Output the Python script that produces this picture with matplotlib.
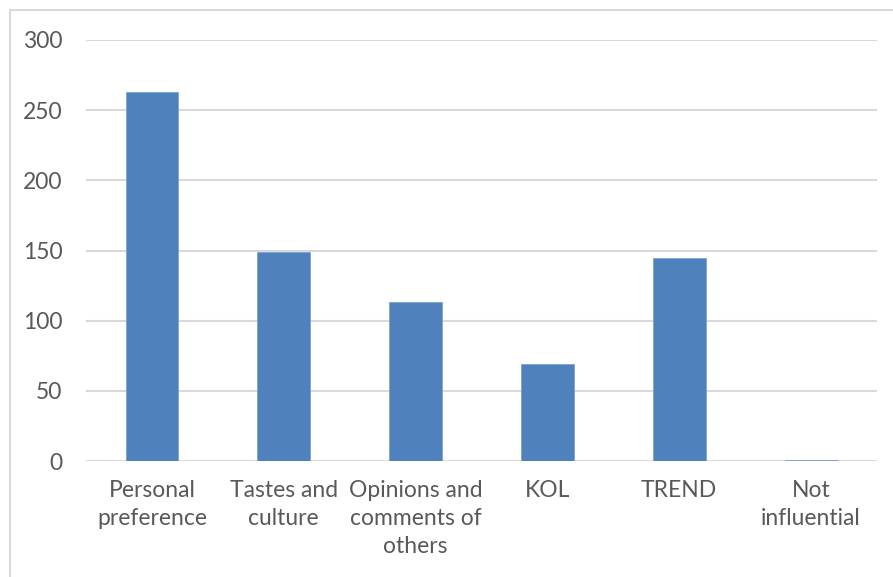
import matplotlib.pyplot as plt
from matplotlib.patches import Rectangle

categories = ['Personal\npreference', 'Tastes and\nculture', 'Opinions and\ncomments of\nothers',
              'KOL', 'TREND', 'Not\ninfluential']
counts = [263, 149, 113, 69, 145, 1]
yticks = [0, 50, 100, 150, 200, 250, 300]

plt.rcParams['font.family'] = ['Lato', 'DejaVu Sans']

W, H = 893, 577
fig = plt.figure(figsize=(W / 100, H / 100), dpi=100)
ax = fig.add_axes([86 / W, 116 / H, (877 - 86) / W, (461 - 40) / H])

x = list(range(len(categories)))
ax.bar(x, counts, width=0.4, color='#4F81BD', edgecolor='#7FA3D3', linewidth=0.6, zorder=3)

ax.set_xlim(-0.5, len(categories) - 0.5)
ax.set_ylim(0, 300)
ax.set_yticks(yticks)
ax.set_xticks(x)
ax.set_xticklabels(categories, linespacing=1.4)

ax.grid(axis='y', color='#D9D9D9', linewidth=1.5, zorder=0)
for s in ax.spines.values():
    s.set_visible(False)
ax.tick_params(axis='both', length=0, labelsize=16.5, labelcolor='#595959')
ax.tick_params(axis='y', pad=17)
ax.tick_params(axis='x', pad=14)

# chart frame
fig.add_artist(Rectangle((10 / W, -0.1), 1.2, (H - 10) / H + 0.1, transform=fig.transFigure,
                         fill=False, edgecolor='#D9D9D9', linewidth=1.5))

fig.savefig('out.png', dpi=100)
